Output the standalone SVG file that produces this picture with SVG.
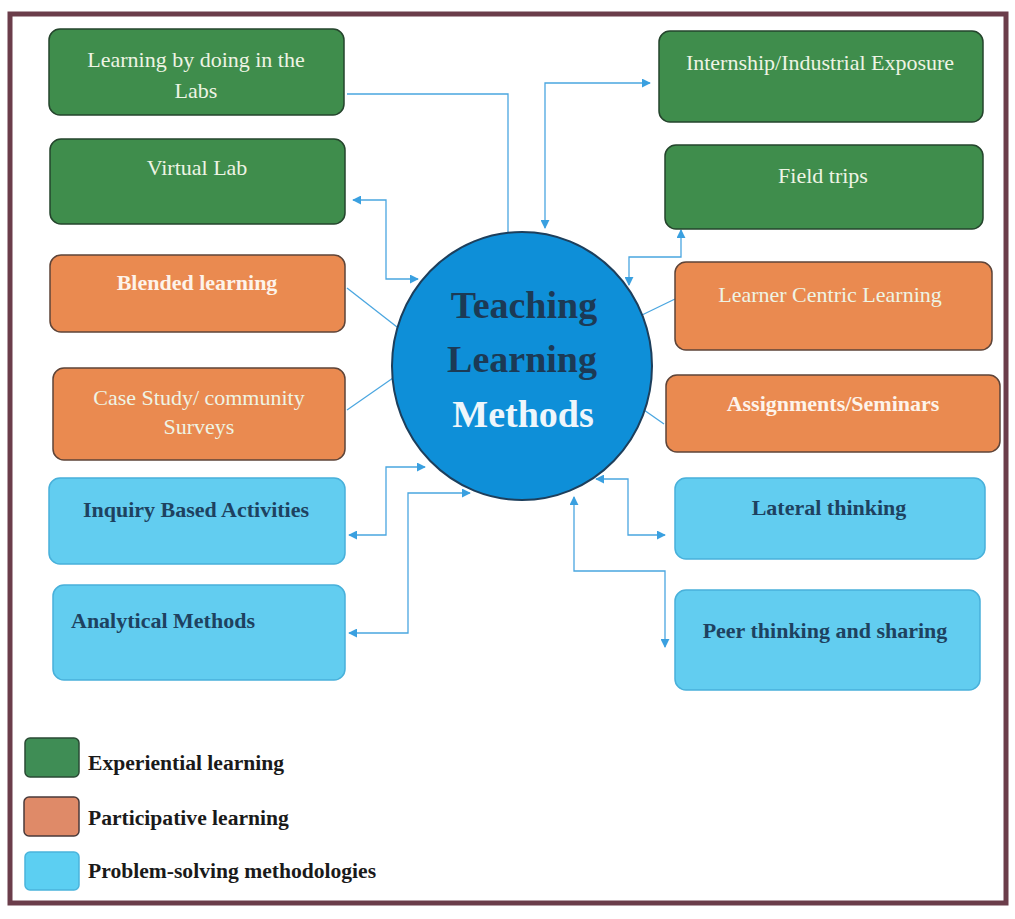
<svg xmlns="http://www.w3.org/2000/svg" width="1015" height="919" viewBox="0 0 1015 919">
<style>
.g{fill:#3f8d4c;stroke:#24442c;stroke-width:1.5}
.o{fill:#ea8a50;stroke:#5e4438;stroke-width:1.5}
.b{fill:#62cdf0;stroke:#48b0da;stroke-width:1.5}
.t{font-family:"Liberation Serif","Times New Roman",serif;font-size:22px;text-anchor:middle}
.s{text-anchor:start}
.w{fill:#eef4e4}
.wb{fill:#fdf3ea;font-weight:bold}
.d{fill:#1e4260;font-weight:bold}
.c{fill:none;stroke:#4aa6e0;stroke-width:1.3}
.lg{font-family:"Liberation Serif","Times New Roman",serif;font-size:21.6px;font-weight:bold;fill:#1a1a1a}
</style>
<defs>
<marker id="ah" viewBox="0 0 10 10" refX="9" refY="5" markerWidth="9" markerHeight="9" markerUnits="userSpaceOnUse" orient="auto-start-reverse">
<path d="M0,0 L10,5 L0,10 z" fill="#3aa0e0"/>
</marker>
</defs>
<rect x="0" y="0" width="1015" height="919" fill="#ffffff"/>
<rect x="10" y="14" width="996" height="889" fill="#ffffff" stroke="#6b3d4a" stroke-width="5"/>

<g id="connectors">
<path class="c" d="M347,94 H508 V233"/>
<path class="c" d="M353,200 H386 V279 H418" marker-start="url(#ah)" marker-end="url(#ah)"/>
<path class="c" d="M545,228 V83 H650" marker-start="url(#ah)" marker-end="url(#ah)"/>
<path class="c" d="M681,230 V257 H629 V285" marker-start="url(#ah)" marker-end="url(#ah)"/>
<path class="c" d="M347,288 L397,327"/>
<path class="c" d="M347,410 L393,378"/>
<path class="c" d="M675,299 L642,315"/>
<path class="c" d="M664,424 L644,410"/>
<path class="c" d="M349,535 H386 V467 H425" marker-start="url(#ah)" marker-end="url(#ah)"/>
<path class="c" d="M349,633 H408 V493 H470" marker-start="url(#ah)" marker-end="url(#ah)"/>
<path class="c" d="M596,479 H628 V535 H665" marker-start="url(#ah)" marker-end="url(#ah)"/>
<path class="c" d="M574,497 V571 H665 V647" marker-start="url(#ah)" marker-end="url(#ah)"/>
</g>

<g id="center">
<ellipse cx="522" cy="366" rx="130" ry="134" fill="#0e8fd8" stroke="#1d3f5c" stroke-width="2"/>
<text x="524" y="318" font-family="Liberation Serif,serif" font-size="38" font-weight="bold" text-anchor="middle" fill="#1c3a55">Teaching</text>
<text x="522" y="372" font-family="Liberation Serif,serif" font-size="38" font-weight="bold" text-anchor="middle" fill="#1c3a55">Learning</text>
<text x="523" y="427" font-family="Liberation Serif,serif" font-size="38" font-weight="bold" text-anchor="middle" fill="#eef6fb">Methods</text>
</g>

<g id="labs"><rect class="g" x="49" y="29" width="295" height="86" rx="11"/>
<text class="t w" x="196" y="67">Learning by doing in the</text><text class="t w" x="196" y="98">Labs</text></g>
<g id="virtual-lab"><rect class="g" x="50" y="139" width="295" height="85" rx="11"/>
<text class="t w" x="197" y="175">Virtual Lab</text></g>
<g id="blended"><rect class="o" x="50" y="255" width="295" height="77" rx="11"/>
<text class="t wb" x="197" y="290">Blended learning</text></g>
<g id="case-study"><rect class="o" x="53" y="368" width="292" height="92" rx="11"/>
<text class="t w" x="199" y="405">Case Study/ community</text><text class="t w" x="199" y="434">Surveys</text></g>
<g id="inquiry"><rect class="b" x="49" y="478" width="296" height="86" rx="11"/>
<text class="t d" x="196" y="517">Inquiry Based Activities</text></g>
<g id="analytical"><rect class="b" x="53" y="585" width="292" height="95" rx="11"/>
<text class="t d s" x="71" y="628">Analytical Methods</text></g>

<g id="internship"><rect class="g" x="659" y="31" width="324" height="91" rx="11"/>
<text class="t w" x="820" y="70">Internship/Industrial Exposure</text></g>
<g id="field-trips"><rect class="g" x="665" y="145" width="318" height="84" rx="11"/>
<text class="t w" x="823" y="183">Field trips</text></g>
<g id="learner-centric"><rect class="o" x="675" y="262" width="317" height="88" rx="11"/>
<text class="t w" x="830" y="302">Learner Centric Learning</text></g>
<g id="assignments"><rect class="o" x="666" y="375" width="334" height="77" rx="11"/>
<text class="t wb" x="833" y="411">Assignments/Seminars</text></g>
<g id="lateral"><rect class="b" x="675" y="478" width="310" height="81" rx="11"/>
<text class="t d" x="829" y="515">Lateral thinking</text></g>
<g id="peer"><rect class="b" x="675" y="590" width="305" height="100" rx="11"/>
<text class="t d" x="825" y="638">Peer thinking and sharing</text></g>

<g id="legend">
<rect x="25" y="738" width="54" height="39" rx="5" fill="#3f8d55" stroke="#2a4a34" stroke-width="1.5"/>
<text class="lg" x="88" y="770">Experiential learning</text>
<rect x="24" y="797" width="55" height="39" rx="5" fill="#df8a68" stroke="#4a3a3a" stroke-width="1.5"/>
<text class="lg" x="88" y="825">Participative learning</text>
<rect x="25" y="852" width="54" height="38" rx="5" fill="#5ccff2" stroke="#4ab4dc" stroke-width="1.5"/>
<text class="lg" x="88" y="878">Problem-solving methodologies</text>
</g>
</svg>
